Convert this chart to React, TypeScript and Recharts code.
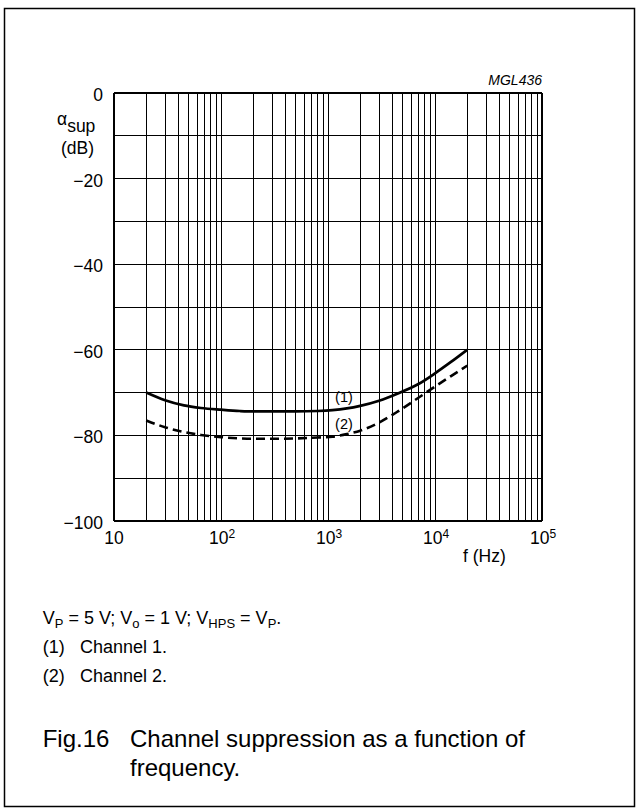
import { LineChart, Line, XAxis, YAxis, ReferenceLine, ReferenceDot } from 'recharts';

// frequency (Hz) and channel suppression (dB)
const freqs = [20, 30, 45, 65, 100, 150, 200, 300, 500, 800, 1100, 1500, 2000, 3000, 4500, 7000, 10000, 14000, 20000];
const channel1 = [-70, -71.8, -73.0, -73.6, -74.0, -74.3, -74.4, -74.4, -74.4, -74.3, -74.1, -73.7, -73.1, -71.9, -70.2, -68.0, -65.5, -62.9, -60];
const channel2 = [-76.5, -78.1, -79.2, -79.9, -80.4, -80.7, -80.8, -80.8, -80.7, -80.5, -80.3, -79.7, -78.9, -77.0, -74.4, -71.2, -68.6, -66.2, -63.7];

const xTicks = [10, 100, 1000, 10000, 100000];
const xExponents = ['', '2', '3', '4', '5'];
const yTicks = [-100, -80, -60, -40, -20, 0];
const yGrid = [-100, -90, -80, -70, -60, -50, -40, -30, -20, -10, 0];
const decades = [10, 100, 1000, 10000];
const steps = [1, 2, 3, 4, 5, 6, 7, 8, 9];

const xGrid = [...decades.flatMap((d) => steps.map((k) => k * d)), 100000];

const data = freqs.map((f, i) => ({ f, ch1: channel1[i], ch2: channel2[i] }));

const FONT = '"Liberation Sans", Arial, Helvetica, sans-serif';
const PLOT_LEFT = 114;
const GRID = '#000';

const YTick = (props: any) => {
  const v = props.payload.value;
  return (
    <text x={PLOT_LEFT - 11} y={props.y + 8} textAnchor="end" fontSize={17.5} fontFamily={FONT} fill="#000">
      {v === 0 ? '0' : '\u2212' + Math.abs(v)}
    </text>
  );
};

const XTick = (props: any) => {
  const v = props.payload.value;
  const i = xTicks.indexOf(v);
  const exp = xExponents[i];
  return (
    <text x={props.x + (exp ? 1 : 0)} y={544} textAnchor="middle" fontSize={17.5} fontFamily={FONT} fill="#000">
      <tspan>10</tspan>
      {exp && (
        <tspan fontSize={12} dy={-6.5}>
          {exp}
        </tspan>
      )}
    </text>
  );
};

const CurveTag = (text: string) => (p: any) => (
  <text x={p.cx} y={p.cy + 5} textAnchor="middle" fontSize={14.5} fontFamily={FONT} fill="#000">
    {text}
  </text>
);

export default function App() {
  return (
    <div style={{ position: 'absolute', left: 0, top: 0, width: 639, height: 812, background: '#fff', fontFamily: FONT }}>
      <style>{'.recharts-reference-line line { shape-rendering: crispEdges; }'}</style>
      <LineChart width={639} height={560} data={data} margin={{ top: 93, right: 97, bottom: 9, left: 54 }}>
        <XAxis
          dataKey="f"
          type="number"
          scale="log"
          domain={[10, 100000]}
          ticks={xTicks}
          allowDataOverflow
          axisLine={false}
          tickLine={false}
          height={30}
          tick={<XTick />}
          interval={0}
        />
        <YAxis
          type="number"
          domain={[-100, 0]}
          ticks={yTicks}
          axisLine={false}
          tickLine={false}
          width={60}
          tick={<YTick />}
          interval={0}
        />
        {xGrid.map((x) => (
          <ReferenceLine key={'vx' + x} x={x} stroke={GRID} strokeWidth={x === 10 || x === 100000 ? 1.3 : 1} />
        ))}
        {yGrid.map((y) => (
          <ReferenceLine key={'hy' + y} y={y} stroke={GRID} strokeWidth={y === 0 || y === -100 ? 1.3 : 1} />
        ))}
        <Line
          type="monotone"
          dataKey="ch1"
          stroke="#000"
          strokeWidth={2.7}
          dot={false}
          isAnimationActive={false}
        />
        <Line
          type="monotone"
          dataKey="ch2"
          stroke="#000"
          strokeWidth={2.6}
          strokeDasharray="9 5"
          dot={false}
          isAnimationActive={false}
        />
        <ReferenceDot x={1410} y={-71} r={0} shape={CurveTag('(1)')} />
        <ReferenceDot x={1410} y={-77.3} r={0} shape={CurveTag('(2)')} />
      </LineChart>
      <svg
        width={639}
        height={812}
        style={{ position: 'absolute', left: 0, top: 0, pointerEvents: 'none' }}
        fontFamily={FONT}
        fill="#000"
      >
        <rect x={4.5} y={8.5} width={630} height={798} fill="none" stroke="#000" strokeWidth={1.5} />
        <text x={542} y={85} textAnchor="end" fontSize={14} fontStyle="italic">
          MGL436
        </text>
        <text x={57} y={125} fontSize={17.5}>
          α<tspan dy={6.5}>sup</tspan>
        </text>
        <text x={77.5} y={153.5} fontSize={17.5} textAnchor="middle">
          (dB)
        </text>
        <text x={463} y={562} fontSize={17.5}>
          f (Hz)
        </text>
        <text x={42.7} y={624.3} fontSize={18}>
          V<tspan fontSize={13} dy={4}>P</tspan>
          <tspan dy={-4}> = 5 V; V</tspan>
          <tspan fontSize={13} dy={4}>o</tspan>
          <tspan dy={-4}> = 1 V; V</tspan>
          <tspan fontSize={13} dy={4}>HPS</tspan>
          <tspan dy={-4}> = V</tspan>
          <tspan fontSize={13} dy={4}>P</tspan>
          <tspan dy={-4}>.</tspan>
        </text>
        <text x={42.7} y={653.3} fontSize={18}>(1)</text>
        <text x={80} y={653.3} fontSize={18}>Channel 1.</text>
        <text x={42.7} y={681.7} fontSize={18}>(2)</text>
        <text x={80} y={681.7} fontSize={18}>Channel 2.</text>
        <text x={42.7} y={747} fontSize={24}>Fig.16</text>
        <text x={130} y={747} fontSize={24}>Channel suppression as a function of</text>
        <text x={130} y={776} fontSize={24}>frequency.</text>
      </svg>
    </div>
  );
}
